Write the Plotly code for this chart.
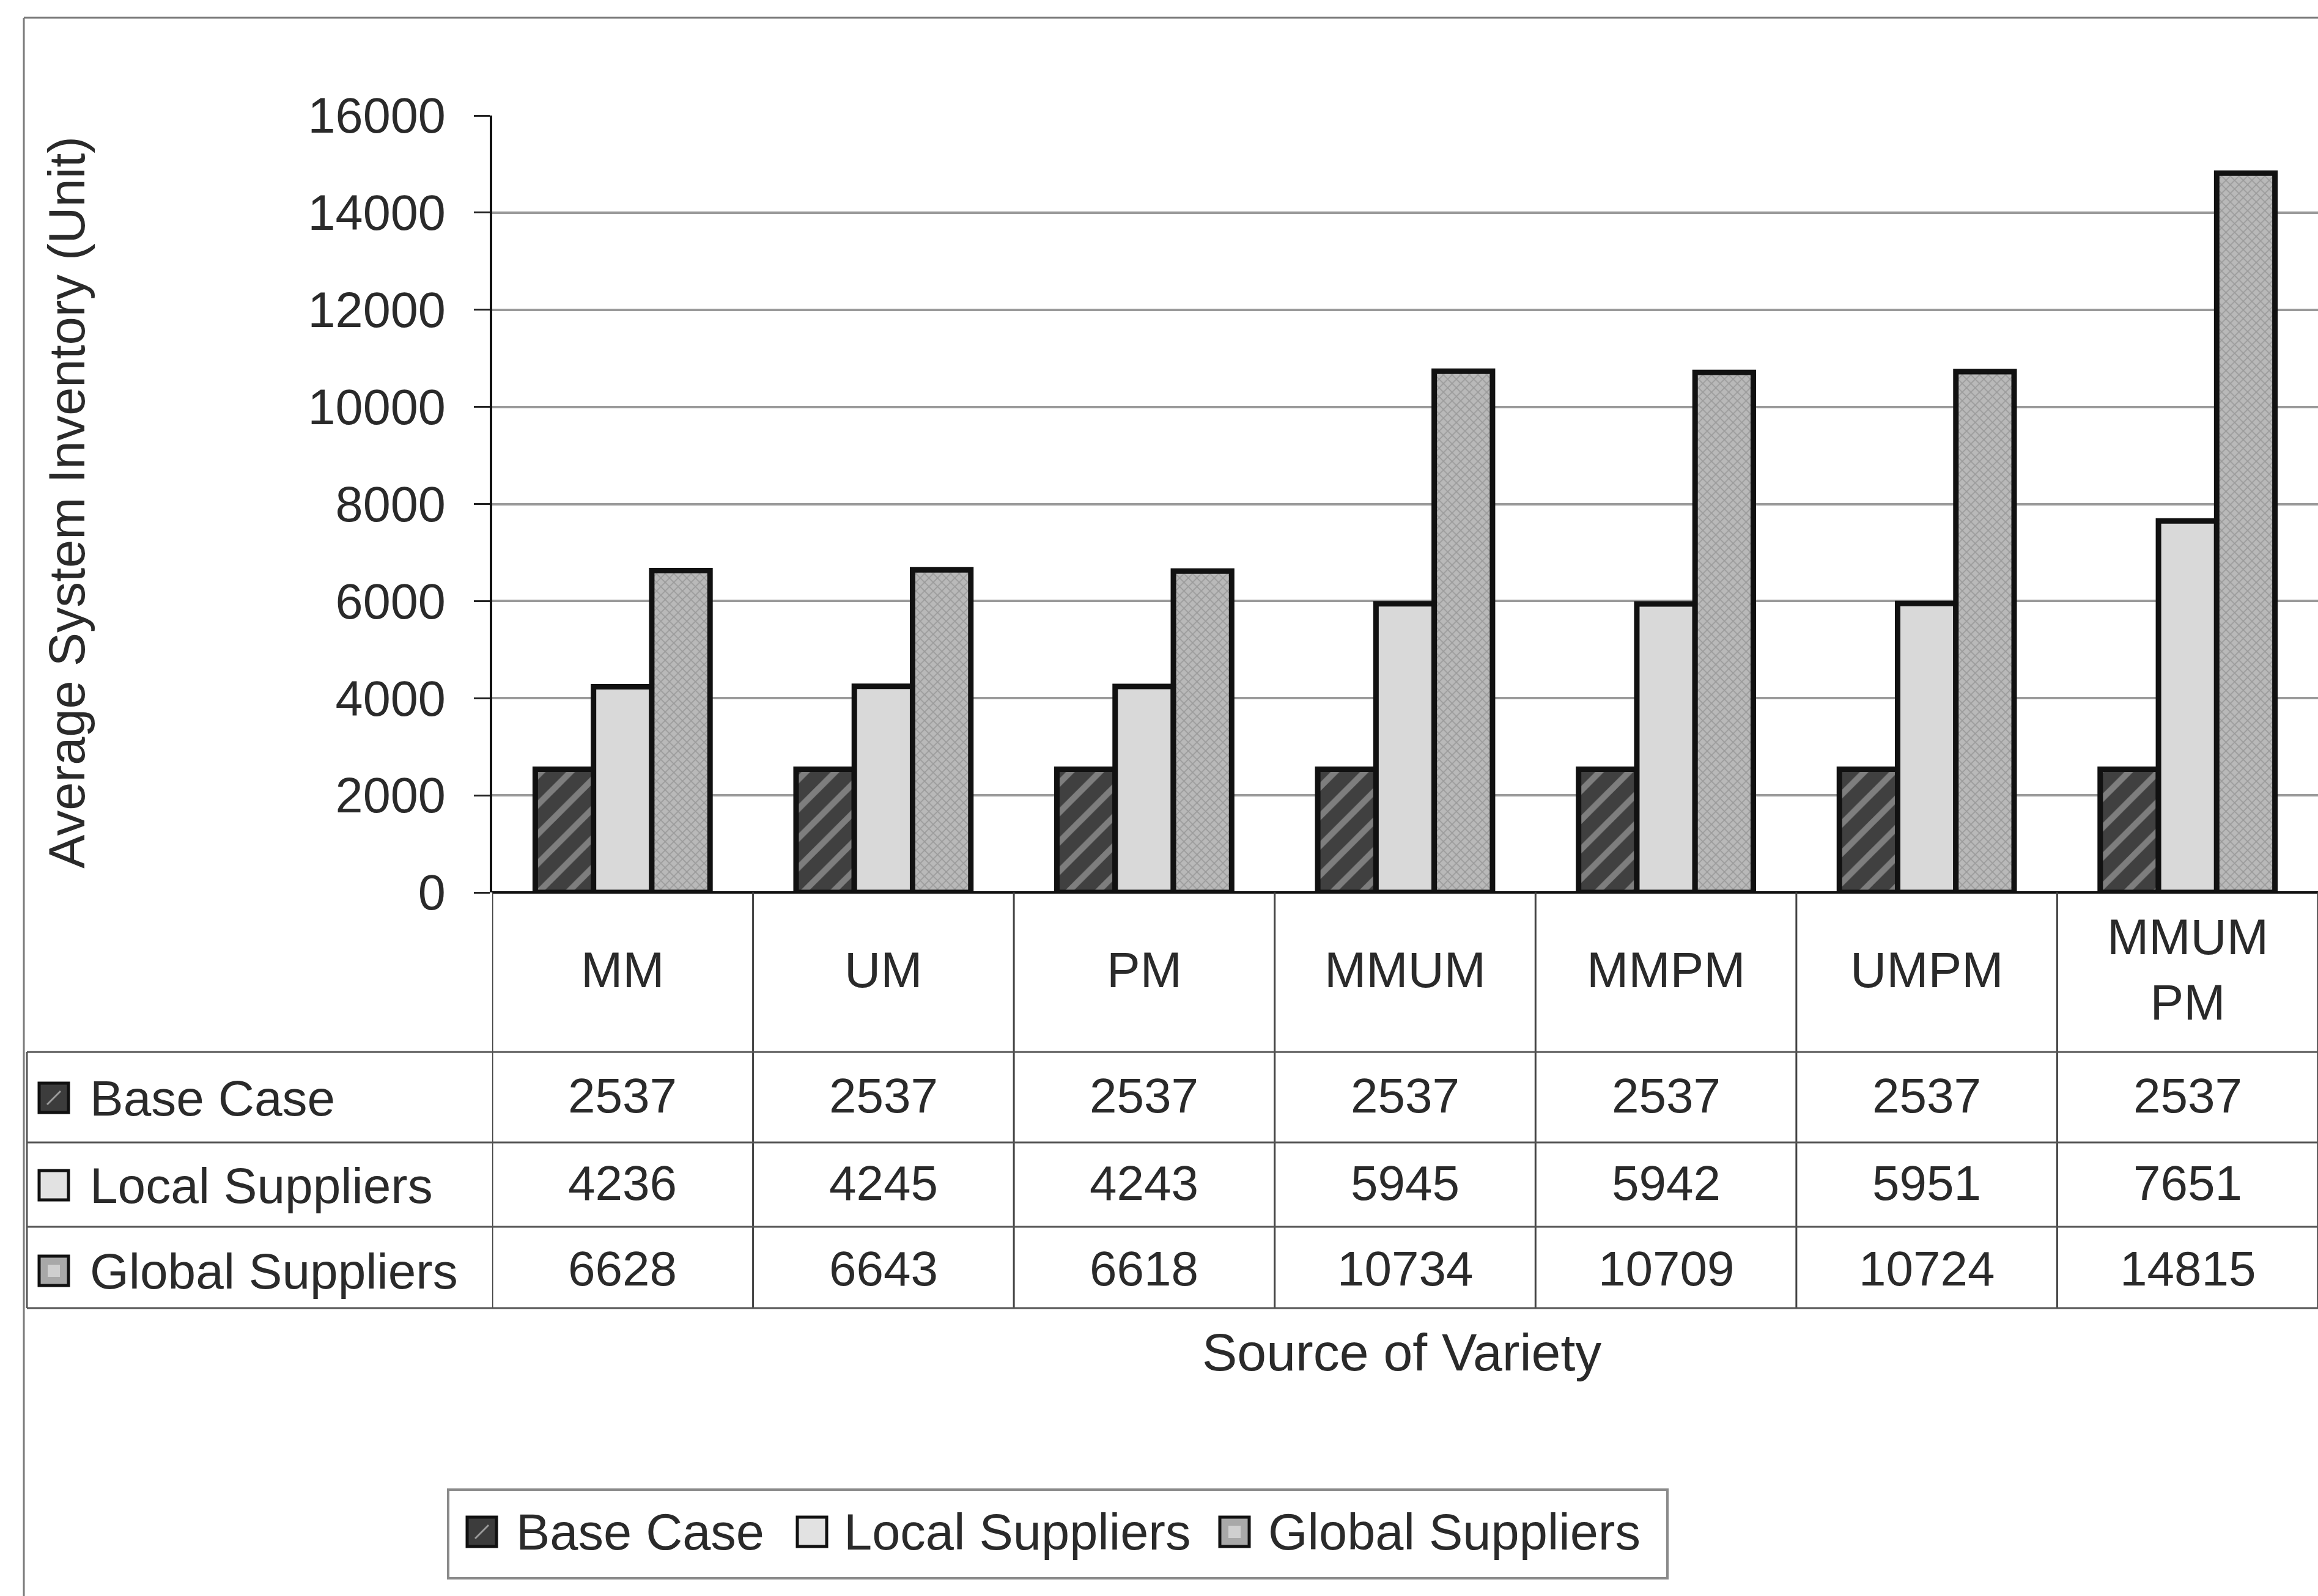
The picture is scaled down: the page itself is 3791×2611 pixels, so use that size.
import plotly.graph_objects as go

# ---- data ----
categories = ["MM", "UM", "PM", "MMUM", "MMPM", "UMPM", "MMUM<br>PM"]
series_names = ["Base Case", "Local Suppliers", "Global Suppliers"]
base_case = [2537, 2537, 2537, 2537, 2537, 2537, 2537]
local_suppliers = [4236, 4245, 4243, 5945, 5942, 5951, 7651]
global_suppliers = [6628, 6643, 6618, 10734, 10709, 10724, 14815]
y_ticks = [0, 2000, 4000, 6000, 8000, 10000, 12000, 14000, 16000]
x_title = "Source of Variety"
y_title = "Average System Inventory (Unit)"

W, H = 3791, 2611
FONT = "Liberation Sans, Arial, sans-serif"
TXT = "#2a2a2a"


def px(x):
    return x / W


def py(y):
    return 1 - y / H


styles = [
    dict(color="#414141", pattern=dict(shape="/", bgcolor="#404040", fgcolor="#7e7e7e",
                                       size=34, solidity=0.3, fillmode="replace")),
    dict(color="#d9d9d9"),
    dict(color="#b4b4b4", pattern=dict(shape="x", bgcolor="#b9b9b9", fgcolor="#9a9a9a",
                                       size=10, solidity=0.3, fillmode="replace")),
]
series_values = [base_case, local_suppliers, global_suppliers]

fig = go.Figure()
for name, vals, st in zip(series_names, series_values, styles):
    fig.add_trace(go.Bar(
        x=list(range(len(categories))), y=vals, name=name,
        marker=dict(**st, line=dict(color="#111111", width=9)),
        showlegend=False,
    ))

shapes = []
annotations = []

# outer frame (top and left edges)
shapes.append(dict(type="line", xref="paper", yref="paper", x0=px(39), x1=1, y0=py(29), y1=py(29),
                   line=dict(color="#7a7a7a", width=3)))
shapes.append(dict(type="line", xref="paper", yref="paper", x0=px(39), x1=px(39), y0=py(29), y1=0,
                   line=dict(color="#7a7a7a", width=3)))

# data table grid
n = len(categories)
table_top, header_bottom = 1460, 1721
row_lines = [1721, 1869, 2007, 2140]
row_centers = [1796, 1939, 2079]
for k in range(n + 1):
    shapes.append(dict(type="line", xref="x", yref="paper", x0=k - 0.5, x1=k - 0.5,
                       y0=py(table_top), y1=py(row_lines[-1]),
                       line=dict(color="#444444", width=3)))
for yl in row_lines:
    shapes.append(dict(type="line", xref="paper", yref="paper", x0=px(44), x1=1,
                       y0=py(yl), y1=py(yl), line=dict(color="#555555", width=3)))
shapes.append(dict(type="line", xref="paper", yref="paper", x0=px(44), x1=px(44),
                   y0=py(header_bottom), y1=py(row_lines[-1]), line=dict(color="#555555", width=3)))

# category header labels
for i, c in enumerate(categories):
    annotations.append(dict(x=i, y=py(1586), xref="x", yref="paper", text=c, showarrow=False,
                            font=dict(family=FONT, size=82, color=TXT),
                            xanchor="center", yanchor="middle"))


def swatch(x0, yc, idx, size=48):
    y0, y1 = yc - size / 2, yc + size / 2
    fills = ["#3c3c3c", "#e2e2e2", "#a8a8a8"]
    out = [dict(type="rect", xref="paper", yref="paper", x0=px(x0), x1=px(x0 + size),
                y0=py(y1), y1=py(y0), fillcolor=fills[idx], line=dict(color="#111111", width=5))]
    if idx == 0:
        out.append(dict(type="line", xref="paper", yref="paper", x0=px(x0 + 13), x1=px(x0 + size - 13),
                        y0=py(y1 - 13), y1=py(y0 + 13), line=dict(color="#9a9a9a", width=3)))
    if idx == 2:
        out.append(dict(type="rect", xref="paper", yref="paper", x0=px(x0 + 14), x1=px(x0 + size - 14),
                        y0=py(y1 - 14), y1=py(y0 + 14), fillcolor="#cfcfcf", line=dict(width=0)))
    return out


# table rows: keys, names and values
for r, (name, vals) in enumerate(zip(series_names, series_values)):
    yc = row_centers[r]
    shapes.extend(swatch(64, yc, r))
    annotations.append(dict(x=px(145), y=py(yc), xref="paper", yref="paper", text=name, showarrow=False,
                            font=dict(family=FONT, size=82, color=TXT), xanchor="left", yanchor="middle"))
    for i, v in enumerate(vals):
        annotations.append(dict(x=i, y=py(yc - 4), xref="x", yref="paper", text=str(v), showarrow=False,
                                font=dict(family=FONT, size=80, color=TXT),
                                xanchor="center", yanchor="middle"))

# axis titles
annotations.append(dict(x=px(2292), y=py(2212), xref="paper", yref="paper", text=x_title, showarrow=False,
                        font=dict(family=FONT, size=86, color=TXT), xanchor="center", yanchor="middle"))
annotations.append(dict(x=px(109), y=py(822), xref="paper", yref="paper", text=y_title, showarrow=False,
                        textangle=-90, font=dict(family=FONT, size=83, color=TXT),
                        xanchor="center", yanchor="middle"))

# legend box
shapes.append(dict(type="rect", xref="paper", yref="paper", x0=px(733), x1=px(2727),
                   y0=py(2582), y1=py(2437), line=dict(color="#8a8a8a", width=4), fillcolor="rgba(0,0,0,0)"))
legend_x = [(764, 842), (1304, 1378), (1995, 2072)]
for idx, (sx, tx) in enumerate(legend_x):
    shapes.extend(swatch(sx, 2506, idx))
    annotations.append(dict(x=px(tx), y=py(2506), xref="paper", yref="paper", text=series_names[idx],
                            showarrow=False, font=dict(family=FONT, size=83, color=TXT),
                            xanchor="left", yanchor="middle"))

fig.update_layout(
    width=W, height=H, autosize=False,
    margin=dict(l=0, r=0, t=0, b=0, pad=0, autoexpand=False),
    paper_bgcolor="white", plot_bgcolor="white",
    showlegend=False,
    barmode="group", bargap=0.33, bargroupgap=0,
    shapes=shapes, annotations=annotations,
    xaxis=dict(domain=[px(805), 1.0], range=[-0.5, n - 0.5], showticklabels=False,
               showgrid=False, zeroline=False, showline=False, ticks="", automargin=False),
    yaxis=dict(domain=[py(1460), py(189)], range=[0, 16000], tickvals=y_ticks,
               ticktext=[str(t) for t in y_ticks], automargin=False,
               showgrid=True, gridcolor="#9a9a9a", gridwidth=4,
               zeroline=True, zerolinecolor="#111111", zerolinewidth=4,
               showline=True, linecolor="#111111", linewidth=4,
               ticks="outside", ticklen=26, tickwidth=3, tickcolor="#222222",
               ticklabelstandoff=30,
               tickfont=dict(family=FONT, size=81, color=TXT)),
)

fig.write_html("out.html")
